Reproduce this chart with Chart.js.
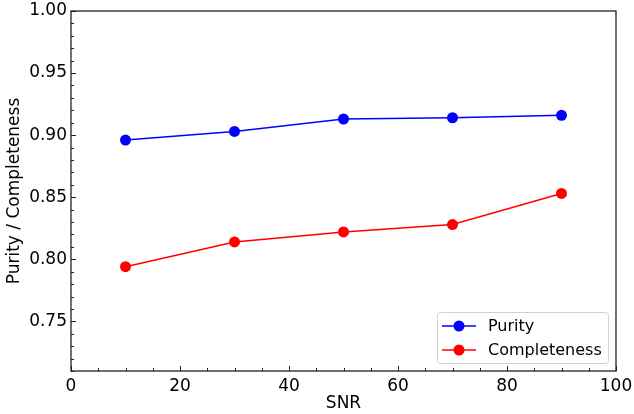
<!DOCTYPE html>
<html>
<head>
<meta charset="utf-8">
<script src="https://cdn.jsdelivr.net/npm/chart.js@4/dist/chart.umd.min.js"></script>
<style>
  html, body { margin: 0; padding: 0; background: #fff; }
  #wrap { width: 634px; height: 414px; }
</style>
</head>
<body>
<div id="wrap"><canvas id="ctx" width="634" height="414"></canvas></div>
<script>
const snr = [10, 30, 50, 70, 90];
const purity = [0.896, 0.903, 0.913, 0.914, 0.916];
const completeness = [0.794, 0.814, 0.822, 0.828, 0.853];
const xMajor = [0, 20, 40, 60, 80, 100];
const yMajor = [0.75, 0.80, 0.85, 0.90, 0.95, 1.00];

const FONT = "'DejaVu Sans', sans-serif";

function toPoints(xs, ys) {
    return xs.map((x, i) => ({ x: x, y: ys[i] }));
}

// inward ticks + box frame, like matplotlib
const frame = {
    id: 'frame',
    afterDatasetsDraw(chart) {
        const c = chart.ctx, a = chart.chartArea;
        const xs = chart.scales.x, ys = chart.scales.y;
        c.save();
        c.strokeStyle = '#222';
        c.lineWidth = 1;
        c.beginPath();
        for (let v = 0; v <= 100; v += 5) {
            const px = Math.round(xs.getPixelForValue(v)) + 0.5;
            const len = xMajor.includes(v) ? 5 : 3;
            c.moveTo(px, a.bottom);
            c.lineTo(px, a.bottom - len);
        }
        for (let k = 71; k <= 100; k++) {
            const v = k / 100;
            const py = Math.round(ys.getPixelForValue(v)) + 0.5;
            const len = (k % 5 === 0) ? 5 : 3;
            c.moveTo(a.left, py);
            c.lineTo(a.left + len, py);
        }
        c.stroke();
        c.lineWidth = 1.3;
        c.strokeRect(a.left, a.top, a.right - a.left, a.bottom - a.top);
        c.restore();
    }
};

// legend inside the axes, lower right
const innerLegend = {
    id: 'innerLegend',
    afterDraw(chart) {
        const c = chart.ctx, a = chart.chartArea;
        const w = 171, h = 51;
        const x0 = a.right - 8 - w, y0 = a.bottom - 8 - h;
        c.save();
        c.beginPath();
        c.roundRect(x0 + 0.5, y0 + 0.5, w, h, 3);
        c.fillStyle = 'rgba(255,255,255,0.8)';
        c.fill();
        c.strokeStyle = '#d0d0d0';
        c.lineWidth = 1;
        c.stroke();
        c.font = '16px ' + FONT;
        c.textBaseline = 'middle';
        chart.data.datasets.forEach((ds, i) => {
            const cy = y0 + 14 + i * 24;
            c.strokeStyle = ds.borderColor;
            c.lineWidth = 1.5;
            c.beginPath();
            c.moveTo(x0 + 5, cy);
            c.lineTo(x0 + 39, cy);
            c.stroke();
            c.fillStyle = ds.backgroundColor;
            c.beginPath();
            c.arc(x0 + 22, cy, 5.5, 0, Math.PI * 2);
            c.fill();
            c.fillStyle = '#000';
            c.fillText(ds.label, x0 + 51, cy + 1);
        });
        c.restore();
    }
};

const config = {
    type: 'line',
    data: {
        datasets: [
            {
                label: 'Purity',
                data: toPoints(snr, purity),
                borderColor: '#0000ff',
                backgroundColor: '#0000ff',
                borderWidth: 1.5,
                pointRadius: 5.5,
                pointHoverRadius: 5.5,
                pointBorderWidth: 0,
            },
            {
                label: 'Completeness',
                data: toPoints(snr, completeness),
                borderColor: '#ff0000',
                backgroundColor: '#ff0000',
                borderWidth: 1.5,
                pointRadius: 5.5,
                pointHoverRadius: 5.5,
                pointBorderWidth: 0,
            },
        ]
    },
    options: {
        responsive: false,
        animation: false,
        layout: { padding: { top: 11, right: 18, left: 0, bottom: 0 } },
        plugins: {
            legend: { display: false },
            tooltip: { enabled: false },
        },
        scales: {
            x: {
                type: 'linear',
                min: 0,
                max: 100,
                grid: { display: false, drawTicks: false },
                border: { display: false },
                afterFit(scale) {
                    scale.height = 43;
                    scale.paddingLeft = 0;
                    scale.paddingRight = 0;
                },
                ticks: {
                    stepSize: 20,
                    padding: 5,
                    color: '#000',
                    font: { family: FONT, size: 17 },
                    maxRotation: 0,
                },
                title: {
                    display: true,
                    text: 'SNR',
                    color: '#000',
                    font: { family: FONT, size: 17 },
                    padding: { top: 0, bottom: 0 },
                },
            },
            y: {
                min: 0.71,
                max: 1.0,
                grid: { display: false, drawTicks: false },
                border: { display: false },
                afterFit(scale) {
                    scale.width = 71;
                    scale.paddingTop = 0;
                    scale.paddingBottom = 0;
                },
                afterBuildTicks(scale) {
                    scale.ticks = yMajor.map(v => ({ value: v }));
                },
                ticks: {
                    padding: 4,
                    color: '#000',
                    font: { family: FONT, size: 17 },
                    callback: v => v.toFixed(2),
                },
                title: {
                    display: true,
                    text: 'Purity / Completeness',
                    color: '#000',
                    font: { family: FONT, size: 17 },
                    padding: { top: 4, bottom: 0 },
                },
            }
        }
    },
    plugins: [frame, innerLegend]
};

const graphChart = new Chart(document.getElementById('ctx').getContext('2d'), config);
</script>
</body>
</html>
